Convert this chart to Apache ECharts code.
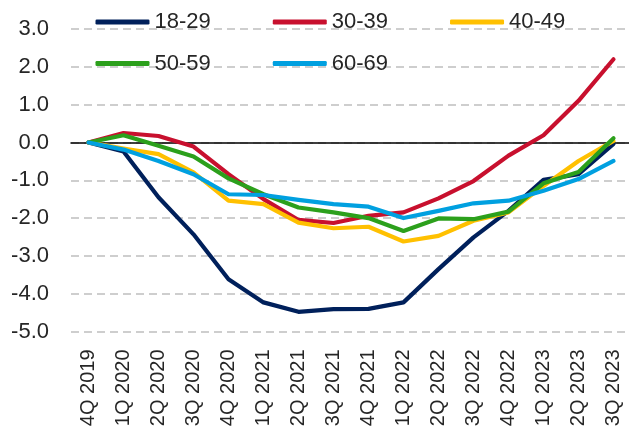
<!DOCTYPE html>
<html>
<head>
<meta charset="utf-8">
<script src="https://cdn.jsdelivr.net/npm/echarts@6/dist/echarts.min.js"></script>
<style>
  html, body { margin: 0; padding: 0; background: #ffffff; }
  #chart { width: 629px; height: 427px; }
</style>
</head>
<body>
<div id="chart"></div>
<script>
// Quarterly change by age group, percentage points relative to 4Q 2019
const quarters = ['4Q 2019', '1Q 2020', '2Q 2020', '3Q 2020', '4Q 2020', '1Q 2021', '2Q 2021', '3Q 2021',
  '4Q 2021', '1Q 2022', '2Q 2022', '3Q 2022', '4Q 2022', '1Q 2023', '2Q 2023', '3Q 2023'];

const age18to29 = [0, -0.24, -1.45, -2.43, -3.62, -4.23, -4.48, -4.41, -4.40, -4.23, -3.35, -2.51, -1.81, -0.99, -0.84, -0.04];
const age30to39 = [0, 0.25, 0.17, -0.11, -0.84, -1.50, -2.05, -2.13, -1.94, -1.85, -1.48, -1.02, -0.35, 0.19, 1.10, 2.20];
const age40to49 = [0, -0.16, -0.31, -0.79, -1.54, -1.63, -2.12, -2.27, -2.23, -2.62, -2.47, -2.07, -1.85, -1.15, -0.49, 0.04];
const age50to59 = [0, 0.19, -0.09, -0.37, -0.95, -1.37, -1.72, -1.85, -2.00, -2.34, -2.01, -2.03, -1.83, -1.08, -0.78, 0.11];
const age60to69 = [0, -0.19, -0.49, -0.84, -1.37, -1.39, -1.52, -1.63, -1.70, -2.00, -1.81, -1.61, -1.54, -1.28, -0.97, -0.49];

const yTicks = { min: -5, max: 3, step: 1 };

const seriesNames = ['18-29', '30-39', '40-49', '50-59', '60-69'];
const seriesValues = [age18to29, age30to39, age40to49, age50to59, age60to69];
const seriesColors = ['#00205B', '#C8102E', '#FFC000', '#2CA01C', '#00A0E0'];

const FONT = '"Liberation Sans", Arial, sans-serif';
const TEXT = '#262626';

const legendCommon = {
  orient: 'horizontal',
  itemWidth: 54,
  itemHeight: 5,
  itemGap: 62,
  icon: 'roundRect',
  textStyle: { fontFamily: FONT, fontSize: 22, color: TEXT }
};

const chart = echarts.init(document.getElementById('chart'), null, { renderer: 'canvas' });

chart.setOption({
  animation: false,
  backgroundColor: '#ffffff',
  legend: [
    Object.assign({ left: 90.5, top: 6, data: seriesNames.slice(0, 3) }, legendCommon),
    Object.assign({ left: 90.5, top: 47.5, data: seriesNames.slice(3) }, legendCommon)
  ],
  grid: { left: 71, right: -2, top: 29, bottom: 95.5, containLabel: false, outerBoundsMode: 'none' },
  xAxis: {
    type: 'category',
    data: quarters,
    boundaryGap: true,
    axisLine: { show: true, onZero: true, lineStyle: { color: '#000000', width: 1.5 } },
    axisTick: { show: false },
    axisLabel: {
      rotate: 90,
      interval: 0,
      margin: 18,
      fontFamily: FONT,
      fontSize: 20,
      color: TEXT
    }
  },
  yAxis: {
    type: 'value',
    min: yTicks.min,
    max: yTicks.max,
    interval: yTicks.step,
    axisLine: { show: false },
    axisTick: { show: false },
    axisLabel: {
      margin: 22,
      fontFamily: FONT,
      fontSize: 22,
      color: TEXT,
      formatter: v => v.toFixed(1)
    },
    splitLine: { show: true, lineStyle: { color: '#BFBFBF', width: 1.5, type: [8, 5] } }
  },
  series: seriesNames.map((name, i) => ({
    name: name,
    type: 'line',
    data: seriesValues[i],
    symbol: 'none',
    smooth: false,
    lineStyle: { color: seriesColors[i], width: 4.2, cap: 'round', join: 'round' },
    itemStyle: { color: seriesColors[i] },
    z: 2 + i
  }))
});
</script>
</body>
</html>
